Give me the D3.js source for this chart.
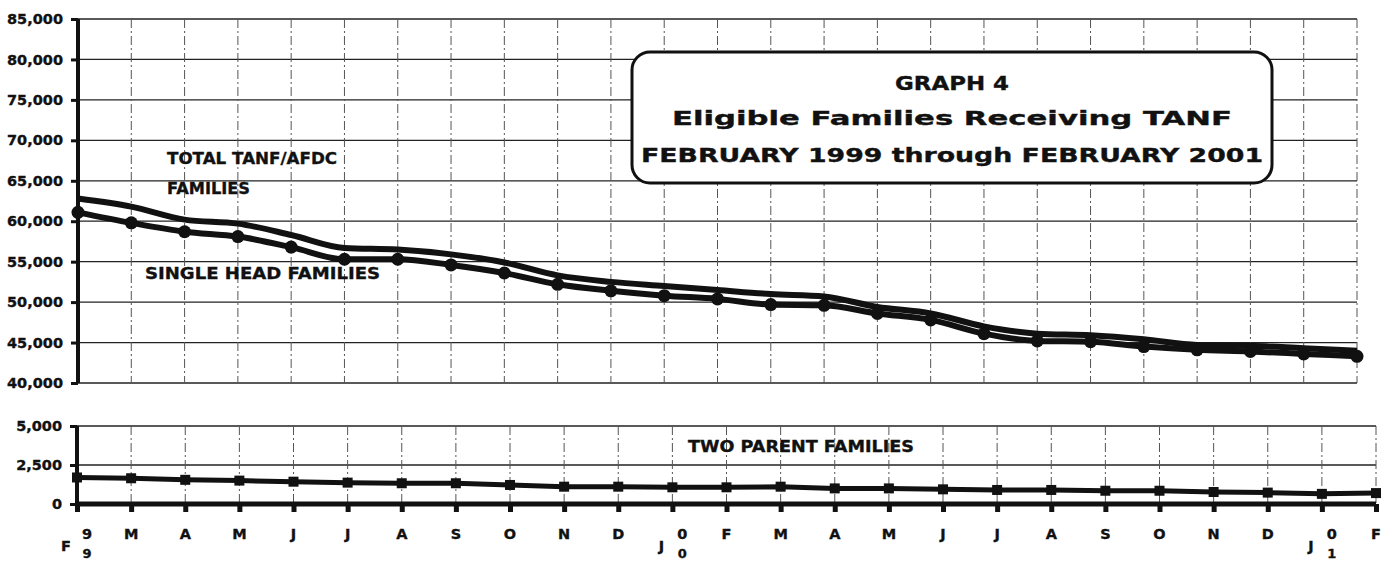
<!DOCTYPE html>
<html>
<head>
<meta charset="utf-8">
<script src="https://cdn.jsdelivr.net/npm/d3@7"></script>
<style>
  body { margin: 0; background: #fff; }
  svg { display: block; font-family: "DejaVu Sans", "Liberation Sans", sans-serif; font-weight: bold; }
  text { stroke: #111; stroke-width: 0.35px; }
</style>
</head>
<body>
<div id="chart"></div>
<script>
// month letters, Feb 1999 .. Feb 2001
const months = ["F","M","A","M","J","J","A","S","O","N","D","J","F","M","A","M","J","J","A","S","O","N","D","J","F"];
// year digits shown next to some month letters
const yearMarks = [{i: 0, y: "99"}, {i: 11, y: "00"}, {i: 23, y: "01"}];

const totalFamilies = [62800,61800,60200,59700,58300,56700,56500,55900,54900,53300,52500,52000,51500,
                       51000,50700,49400,48600,47000,46100,45900,45400,44700,44600,44300,44000];
const singleHead = [61100,59800,58700,58100,56800,55300,55300,54600,53600,52200,51400,50800,50400,
                    49700,49600,48600,47800,46100,45200,45100,44500,44100,43900,43600,43300];
const twoParent = [1700,1650,1550,1500,1430,1370,1330,1330,1220,1110,1110,1070,1070,
                   1110,1000,1000,940,900,900,850,850,770,730,650,700];

const topTicks = [40000,45000,50000,55000,60000,65000,70000,75000,80000,85000];
const bottomTicks = [0,2500,5000];

const titleLines = ["GRAPH 4", "Eligible Families Receiving TANF", "FEBRUARY 1999 through FEBRUARY  2001"];
const seriesNotes = ["TOTAL TANF/AFDC", "FAMILIES", "SINGLE HEAD FAMILIES", "TWO PARENT FAMILIES"];

function draw() {
  const width = 1391, height = 563;
  const svg = d3.select('#chart').append('svg')
      .attr('width', width)
      .attr('height', height);

  const idx = d3.range(months.length);

  // scales - upper panel is a bit narrower than the lower one (scan)
  const xTop = d3.scaleLinear().domain([0, 24]).range([78, 1357]);
  const yTop = d3.scaleLinear().domain([40000, 85000]).range([383, 19]);
  const xBot = d3.scaleLinear().domain([0, 24]).range([77, 1376]);
  const yBot = d3.scaleLinear().domain([0, 5000]).range([504, 426]);

  const fmt = d3.format(',');

  // ---- upper panel grid
  const gTop = svg.append('g');
  gTop.selectAll('.hgrid').data(topTicks).enter().append('line')
      .attr('x1', xTop(0)).attr('x2', xTop(24))
      .attr('y1', d => yTop(d)).attr('y2', d => yTop(d))
      .attr('stroke', '#222').attr('stroke-width', 1.3);
  gTop.selectAll('.vgrid').data(idx.slice(1)).enter().append('line')
      .attr('x1', d => xTop(d)).attr('x2', d => xTop(d))
      .attr('y1', yTop(85000)).attr('y2', yTop(40000))
      .attr('stroke', '#555').attr('stroke-width', 1)
      .attr('stroke-dasharray', '9,3,2,3');

  // y axis upper
  const axTop = svg.append('g')
      .attr('transform', 'translate(' + xTop(0) + ',0)')
      .call(d3.axisLeft(yTop).tickValues(topTicks).tickFormat(fmt).tickSize(7).tickPadding(8));
  axTop.select('.domain').attr('stroke', '#111').attr('stroke-width', 4)
      .attr('d', 'M0,' + yTop(85000) + 'V' + yTop(40000));
  axTop.selectAll('.tick line').attr('stroke', '#111').attr('stroke-width', 3);
  axTop.selectAll('.tick text').attr('fill', '#111')
      .style('font-size', '14.5px').style('font-weight', 'bold')
      .style('font-family', '"DejaVu Sans", sans-serif');

  // ---- lower panel grid
  const gBot = svg.append('g');
  gBot.selectAll('.hgrid').data([2500, 5000]).enter().append('line')
      .attr('x1', xBot(0)).attr('x2', xBot(24))
      .attr('y1', d => yBot(d)).attr('y2', d => yBot(d))
      .attr('stroke', '#222').attr('stroke-width', 1.3);
  gBot.selectAll('.vgrid').data(idx.slice(1)).enter().append('line')
      .attr('x1', d => xBot(d)).attr('x2', d => xBot(d))
      .attr('y1', yBot(5000)).attr('y2', yBot(0))
      .attr('stroke', '#555').attr('stroke-width', 1)
      .attr('stroke-dasharray', '9,3,2,3');

  const axBot = svg.append('g')
      .attr('transform', 'translate(' + xBot(0) + ',0)')
      .call(d3.axisLeft(yBot).tickValues(bottomTicks).tickFormat(fmt).tickSize(7).tickPadding(8));
  axBot.select('.domain').attr('stroke', '#111').attr('stroke-width', 4)
      .attr('d', 'M0,' + yBot(5000) + 'V' + (yBot(0) + 8));
  axBot.selectAll('.tick line').attr('stroke', '#111').attr('stroke-width', 3);
  axBot.selectAll('.tick text').attr('fill', '#111')
      .style('font-size', '14.5px').style('font-weight', 'bold')
      .style('font-family', '"DejaVu Sans", sans-serif');

  // x axis (months) on the lower panel
  const axX = svg.append('g')
      .attr('transform', 'translate(0,' + yBot(0) + ')')
      .call(d3.axisBottom(xBot).tickValues(idx).tickFormat('').tickSize(8));
  axX.select('.domain').attr('stroke', '#111').attr('stroke-width', 5)
      .attr('d', 'M' + xBot(0) + ',0H' + xBot(24));
  axX.selectAll('.tick line').attr('stroke', '#111').attr('stroke-width', 5);

  const yearIdx = yearMarks.map(d => d.i);
  const labels = svg.append('g').attr('fill', '#111').style('font-size', '14.5px');
  labels.selectAll('.m').data(idx).enter().append('text')
      .attr('x', d => yearIdx.includes(d) ? xBot(d) - 11 : xBot(d))
      .attr('y', d => yearIdx.includes(d) ? 551 : 539)
      .attr('text-anchor', 'middle')
      .text(d => months[d]);
  yearMarks.forEach(m => {
    labels.append('text').attr('x', xBot(m.i) + 10).attr('y', 539)
        .attr('text-anchor', 'middle').text(m.y[0]);
    labels.append('text').attr('x', xBot(m.i) + 10).attr('y', 558)
        .attr('text-anchor', 'middle').style('font-size', '13px').text(m.y[1]);
  });

  // ---- series
  const lineTop = d3.line().x((d, i) => xTop(i)).y(d => yTop(d)).curve(d3.curveMonotoneX);
  svg.append('path').datum(totalFamilies)
      .attr('d', lineTop).attr('fill', 'none')
      .attr('stroke', '#111').attr('stroke-width', 6);
  svg.append('path').datum(singleHead)
      .attr('d', lineTop).attr('fill', 'none')
      .attr('stroke', '#111').attr('stroke-width', 6);
  svg.selectAll('.dot').data(singleHead).enter().append('circle')
      .attr('cx', (d, i) => xTop(i)).attr('cy', d => yTop(d))
      .attr('r', 6.5).attr('fill', '#111');

  const lineBot = d3.line().x((d, i) => xBot(i)).y(d => yBot(d));
  svg.append('path').datum(twoParent)
      .attr('d', lineBot).attr('fill', 'none')
      .attr('stroke', '#111').attr('stroke-width', 5);
  svg.selectAll('.sq').data(twoParent).enter().append('rect')
      .attr('x', (d, i) => xBot(i) - 5).attr('y', d => yBot(d) - 5)
      .attr('width', 10).attr('height', 10).attr('fill', '#111');

  // ---- series labels
  const nx = [167, 167, 145, 688], ny = [164, 194, 279, 452], nw = [170, 83, 235, 226];
  svg.append('g').attr('fill', '#111').style('font-size', '16px')
    .selectAll('text').data(seriesNotes).enter().append('text')
      .attr('x', (d, i) => nx[i]).attr('y', (d, i) => ny[i])
      .attr('textLength', (d, i) => nw[i])
      .attr('lengthAdjust', 'spacingAndGlyphs')
      .text(d => d);

  // ---- title box
  svg.append('rect')
      .attr('x', 632).attr('y', 52).attr('width', 640).attr('height', 131)
      .attr('rx', 18).attr('ry', 18)
      .attr('fill', '#fff').attr('stroke', '#111').attr('stroke-width', 3);
  const tw = [114, 560, 622];
  const ty = [90, 125, 162];
  svg.append('g').attr('fill', '#111').style('font-size', '19px')
    .selectAll('text').data(titleLines).enter().append('text')
      .attr('x', 952).attr('y', (d, i) => ty[i])
      .attr('text-anchor', 'middle')
      .attr('textLength', (d, i) => tw[i])
      .attr('lengthAdjust', 'spacingAndGlyphs')
      .text(d => d);
}

draw();
</script>
</body>
</html>
